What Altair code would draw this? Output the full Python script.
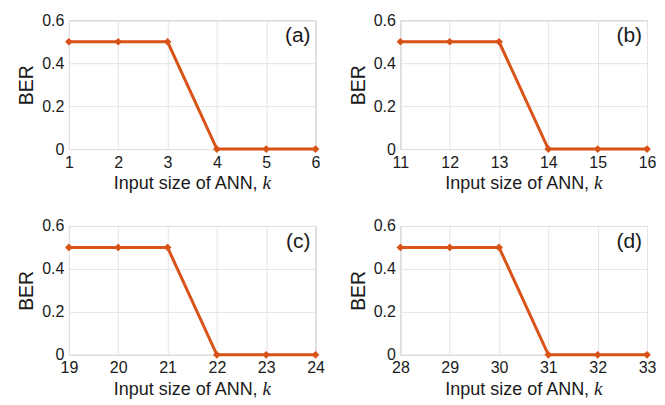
import altair as alt
import pandas as pd

# ---- data ----
k_a = [1, 2, 3, 4, 5, 6]
ber_a = [0.5, 0.5, 0.5, 0.0, 0.0, 0.0]
k_b = [11, 12, 13, 14, 15, 16]
ber_b = [0.5, 0.5, 0.5, 0.0, 0.0, 0.0]
k_c = [19, 20, 21, 22, 23, 24]
ber_c = [0.5, 0.5, 0.5, 0.0, 0.0, 0.0]
k_d = [28, 29, 30, 31, 32, 33]
ber_d = [0.5, 0.5, 0.5, 0.0, 0.0, 0.0]
panel_labels = ["(a)", "(b)", "(c)", "(d)"]
y_ticks = [0, 0.2, 0.4, 0.6]
x_title = "Input size of ANN,"
x_title_var = "k"
y_title = "BER"

ORANGE = "#D95319"
TEXT = "#1a1a1a"
FONT = "Liberation Sans"
W, H = 247, 129


def panel(ks, bers, label):
    df = pd.DataFrame({"k": ks, "BER": bers})
    x = alt.X(
        "k:Q",
        scale=alt.Scale(domain=[ks[0], ks[-1]], nice=False, zero=False),
        axis=alt.Axis(values=ks, title=None, format="d", labelPadding=5,
                      labelFontSize=16, labelFlush=False, labelOverlap=False),
    )
    y = alt.Y(
        "BER:Q",
        scale=alt.Scale(domain=[0, 0.6], nice=False),
        axis=alt.Axis(values=y_ticks, title=y_title, titleFontSize=19.5,
                      titlePadding=5, labelPadding=5, labelFontSize=16,
                      labelFlush=False, labelOverlap=False,
                      labelExpr="datum.value == 0 ? '0' : format(datum.value, '.1f')"),
    )
    base = alt.Chart(df)
    line = base.mark_line(color=ORANGE, strokeWidth=3).encode(x=x, y=y)
    pts = base.mark_point(shape="diamond", filled=True, size=60, color=ORANGE,
                          opacity=1).encode(x="k:Q", y="BER:Q")
    lab = alt.Chart(pd.DataFrame({"t": [label]})).mark_text(
        font=FONT, fontSize=21, color=TEXT, align="right", baseline="middle"
    ).encode(text="t:N", x=alt.value(242), y=alt.value(16))
    t1 = alt.Chart(pd.DataFrame({"t": [x_title]})).mark_text(
        font=FONT, fontSize=18, color=TEXT, align="right", baseline="alphabetic"
    ).encode(text="t:N", x=alt.value(189), y=alt.value(169))
    t2 = alt.Chart(pd.DataFrame({"t": [x_title_var]})).mark_text(
        font="Liberation Serif", fontStyle="italic", fontSize=19, color=TEXT,
        align="left", baseline="alphabetic"
    ).encode(text="t:N", x=alt.value(194), y=alt.value(169))
    return alt.layer(line, pts, lab, t1, t2).properties(width=W, height=H)


chart = alt.concat(
    panel(k_a, ber_a, panel_labels[0]),
    panel(k_b, ber_b, panel_labels[1]),
    panel(k_c, ber_c, panel_labels[2]),
    panel(k_d, ber_d, panel_labels[3]),
    columns=2,
    spacing={"row": 23, "column": 22},
).properties(
    padding={"left": 8, "top": 3, "right": 0, "bottom": 0},
    background="white",
).configure_view(
    stroke="#b8b8b8", strokeWidth=1
).configure_axis(
    domain=False, ticks=False, grid=True, gridColor="#e4e4e4", gridWidth=1,
    labelColor=TEXT, titleColor=TEXT, labelFont=FONT, titleFont=FONT,
    titleFontWeight="normal",
)

chart.save("out.html", embed_options={"renderer": "svg", "actions": False})
